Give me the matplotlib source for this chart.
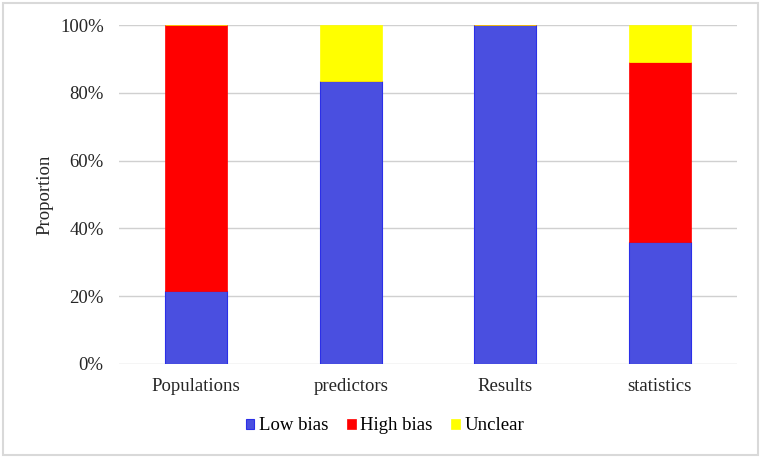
import numpy as np
import matplotlib.pyplot as plt
from matplotlib.patches import Rectangle
from matplotlib.ticker import PercentFormatter

plt.rcParams['font.family'] = ['Liberation Serif', 'DejaVu Serif']

categories = ['Populations', 'predictors', 'Results', 'statistics']
low_bias = [21.6, 83.5, 100.0, 36.1]
high_bias = [78.4, 0.0, 0.0, 53.0]
unclear = [0.0, 16.5, 0.0, 10.9]

fig = plt.figure(figsize=(7.62, 4.59), dpi=100)
ax = fig.add_axes([119/762, 1 - 364/459, 618/762, 339/459])

# outer frame like the original export
fig.patches.append(Rectangle((3/762, 4/459), 755/762, 452/459, transform=fig.transFigure,
                             fill=False, edgecolor='#d9d9d9', linewidth=1.5))

x = np.arange(len(categories))
w = 0.4
low = np.array(low_bias)
high = np.array(high_bias)
unc = np.array(unclear)

ax.bar(x, low, w, color='#4a4fe0', edgecolor='#2b2fe8', linewidth=0.8, label='Low bias', zorder=3)
ax.bar(x, high, w, bottom=low, color='#ff0000', edgecolor='#ff0000', linewidth=0.5, label='High bias', zorder=3)
ax.bar(x, unc, w, bottom=low + high, color='#ffff00', edgecolor='#ffff00', linewidth=0.5, label='Unclear', zorder=3)

ax.set_xlim(-0.5, 3.5)
ax.set_ylim(0, 100)
ax.set_yticks(np.arange(0, 101, 20))
ax.yaxis.set_major_formatter(PercentFormatter(decimals=0))
ax.set_xticks(x)
ax.set_xticklabels(categories)
ax.grid(axis='y', color='#d0d0d0', linewidth=1, zorder=0)
for s in ax.spines.values():
    s.set_visible(False)
ax.tick_params(length=0, labelsize=13.5, colors='#262626', pad=11)
ax.tick_params(axis='x', pad=10)
ax.set_ylabel('Proportion', fontsize=13.5, color='#262626', labelpad=5)

ax.legend(loc='center', bbox_to_anchor=(385/762, 1 - 426/459), bbox_transform=fig.transFigure,
          ncol=3, frameon=False, fontsize=13.5, handlelength=0.45, handleheight=0.45,
          handletextpad=0.25, columnspacing=1.0)

fig.savefig('out.png', dpi=100)
